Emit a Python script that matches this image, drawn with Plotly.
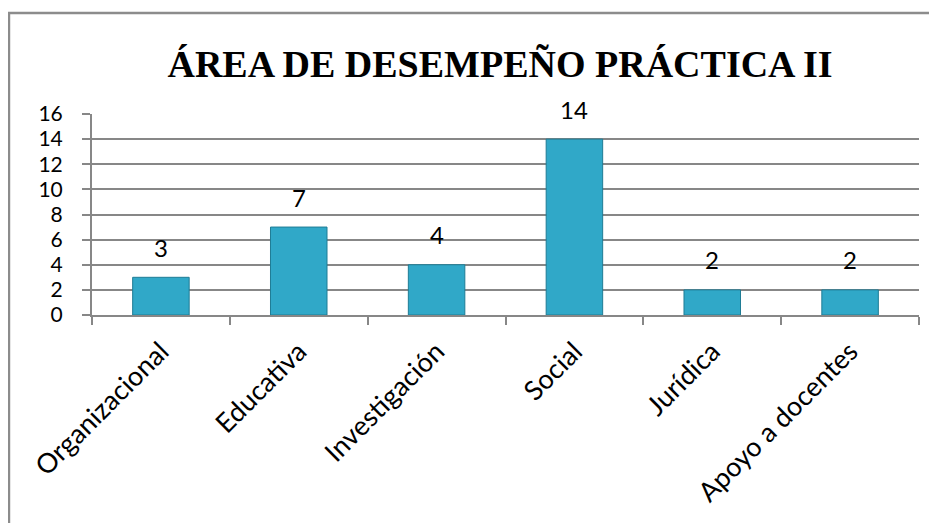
import plotly.graph_objs as go

# Datos del gráfico
areas = ['Organizacional', 'Educativa', 'Investigación', 'Social', 'Jurídica', 'Apoyo a docentes']
cantidades = [3, 7, 4, 14, 2, 2]
y_ticks = [0, 2, 4, 6, 8, 10, 12, 14, 16]
titulo = 'ÁREA DE DESEMPEÑO PRÁCTICA II'

gris = '#878787'

fig = go.Figure(go.Bar(
    x=areas, y=cantidades, width=0.41,
    marker=dict(color='#30A8C8', line=dict(color='#1F7C95', width=1))
))

# Etiquetas de valor sobre las barras
for a, c in zip(areas, cantidades):
    fig.add_annotation(x=a, y=c, text=str(c), showarrow=False, yanchor='middle',
                       yshift=30, font=dict(family='Lato', size=24, color='black'))

# Marco exterior del gráfico
fig.add_shape(type='rect', xref='paper', yref='paper',
              x0=-0.1004, x1=1.04, y0=-1.08, y1=1.502,
              line=dict(color='#8C8C8C', width=2.5), layer='below')

# la página añade 8px de margen, por eso el tamaño es algo menor
fig.update_layout(
    width=929, height=515,
    margin=dict(l=84, r=18, t=106, b=208),
    paper_bgcolor='white', plot_bgcolor='white',
    showlegend=False,
    title=dict(text=titulo, x=0.5296, xanchor='center', y=0.891, yanchor='middle',
               font=dict(family='Liberation Serif', size=38, color='black', weight='bold')),
    xaxis=dict(tickangle=-45, tickson='boundaries', ticks='outside', ticklen=8,
               tickcolor=gris, tickwidth=2, showline=True, linecolor=gris, linewidth=2,
               showgrid=False, automargin=False, ticklabelstandoff=8,
               tickfont=dict(family='Lato', size=27, color='black')),
    yaxis=dict(range=[0, 16], tickvals=y_ticks, ticks='outside', ticklen=8,
               tickcolor=gris, tickwidth=2, showline=True, linecolor=gris, linewidth=2,
               showgrid=True, gridcolor=gris, gridwidth=2, zeroline=False,
               automargin=False, ticklabelstandoff=15,
               tickfont=dict(family='Lato', size=21, color='black'))
)

fig.write_html('out.html')
